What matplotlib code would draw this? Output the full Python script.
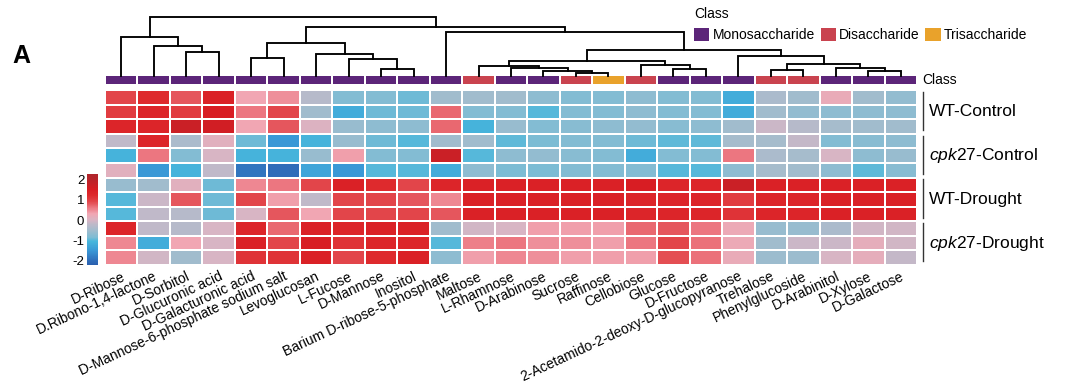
import numpy as np
import matplotlib
matplotlib.use('Agg')
import matplotlib.pyplot as plt
from matplotlib.colors import LinearSegmentedColormap, ListedColormap, Normalize
from matplotlib.patches import Patch

plt.rcParams['font.family'] = ['Liberation Sans', 'DejaVu Sans']
plt.rcParams['axes.unicode_minus'] = False
plt.rcParams['mathtext.fontset'] = 'custom'
plt.rcParams['mathtext.it'] = 'Liberation Sans:italic'
plt.rcParams['mathtext.rm'] = 'Liberation Sans'

compounds = ['D-Ribose', 'D.Ribono-1,4-lactone', 'D-Sorbitol', 'D-Glucuronic acid',
             'D-Galacturonic acid', 'D-Mannose-6-phosphate sodium salt', 'Levoglucosan',
             'L-Fucose', 'D-Mannose', 'Inositol', 'Barium D-ribose-5-phosphate', 'Maltose',
             'L-Rhamnose', 'D-Arabinose', 'Sucrose', 'Raffinose', 'Cellobiose', 'Glucose',
             'D-Fructose', '2-Acetamido-2-deoxy-D-glucopyranose', 'Trehalose',
             'Phenylglucoside', 'D-Arabinitol', 'D-Xylose', 'D-Galactose']

# 0 = Monosaccharide, 1 = Disaccharide, 2 = Trisaccharide
compound_class = [0, 0, 0, 0, 0, 0, 0, 0, 0, 0, 0, 1, 0, 0, 1, 2, 1, 0, 0, 0, 1, 1, 0, 0, 0]
class_names = ['Monosaccharide', 'Disaccharide', 'Trisaccharide']
class_colors = ['#5c2579', '#c9434f', '#e9a22b']

groups = ['WT-Control', '$\\mathit{cpk27}$-Control', 'WT-Drought', '$\\mathit{cpk27}$-Drought']

# z-scores per compound, 12 samples (3 per group, groups in order above)
values_by_compound = [
    [0.9, 1.0, 1.3, -0.2, -1.1, 0.1, -0.6, -1.0, -1.0, 1.3, 0.5, 0.5],
    [1.2, 1.3, 1.3, 1.3, 0.6, -1.5, -0.5, -0.1, -0.2, -0.2, -1.2, -0.05],
    [0.8, 1.0, 1.7, -0.4, -0.8, -1.1, 0.1, 0.8, -0.3, -0.3, 0.3, -0.5],
    [1.4, 1.5, 1.6, 0.1, 0.0, -0.2, -0.9, -0.9, -0.9, 0.0, 0.0, 0.0],
    [0.3, 0.6, 0.3, -0.9, -1.1, -1.9, 0.5, 0.9, 0.0, 1.3, 1.4, 1.1],
    [0.45, 0.9, 0.8, -1.5, -1.1, -2.0, 0.6, 0.35, 0.8, 0.7, 0.9, 1.1],
    [-0.3, -0.5, 0.05, -1.1, -0.6, -1.3, 0.9, -0.2, 0.3, 1.4, 1.5, 1.4],
    [-0.8, -1.2, -0.6, -0.6, 0.35, -1.5, 1.4, 0.9, 0.9, 1.3, 1.1, 0.9],
    [-0.8, -0.9, -0.7, -0.9, -0.8, -1.0, 1.2, 0.9, 0.9, 1.4, 1.3, 1.2],
    [-0.9, -0.9, -0.7, -1.0, -0.8, -1.0, 0.9, 0.8, 0.9, 1.4, 1.3, 1.4],
    [-0.5, 0.7, 0.7, -0.5, 1.7, -1.2, 1.3, 0.5, 0.8, -0.5, -1.0, -0.7],
    [-0.5, -0.8, -1.1, -0.5, -1.0, -0.7, 1.4, 1.4, 1.4, -0.05, 0.55, 0.35],
    [-0.5, -0.8, -0.6, -0.95, -0.7, -0.85, 1.4, 1.4, 1.4, 0.0, 0.6, 0.5],
    [-0.7, -1.0, -0.8, -0.85, -0.65, -0.85, 1.4, 1.4, 1.4, 0.35, 0.45, 0.45],
    [-0.8, -0.8, -0.75, -0.8, -0.75, -0.8, 1.4, 1.4, 1.4, 0.35, 0.45, 0.35],
    [-0.8, -0.8, -0.7, -0.8, -0.8, -0.8, 1.4, 1.4, 1.4, 0.35, 0.35, 0.35],
    [-0.7, -0.7, -0.65, -0.9, -1.2, -0.8, 1.5, 1.3, 1.3, 0.7, 0.6, 0.35],
    [-0.8, -0.8, -0.75, -0.95, -0.8, -1.0, 1.3, 1.3, 1.3, 0.8, 0.9, 0.85],
    [-0.8, -0.8, -0.7, -0.95, -0.8, -1.0, 1.3, 1.3, 1.3, 0.6, 0.65, 0.65],
    [-1.2, -1.2, -0.5, -0.45, 0.6, -0.7, 1.7, 1.0, 1.1, 0.25, 0.25, 0.2],
    [-0.4, -0.5, -0.1, -0.45, -0.4, -0.45, 1.4, 1.3, 1.3, -0.6, -0.5, -0.55],
    [-0.5, -0.65, -0.3, -0.15, -0.45, -0.5, 1.4, 1.3, 1.3, -0.6, -0.1, -0.55],
    [0.2, -0.7, -0.45, -0.8, 0.0, -0.7, 1.4, 1.4, 1.4, -0.4, -0.1, 0.0],
    [-0.5, -0.7, -0.5, -0.75, -0.7, -0.95, 1.4, 1.4, 1.4, -0.05, 0.15, 0.15],
    [-0.65, -0.7, -0.5, -0.7, -0.6, -0.75, 1.4, 1.4, 1.4, -0.05, -0.05, -0.15],
]

# column dendrogram merges: (left, right, height); new nodes numbered from 25 on
merges = [
    (2, 3, 24.3), (1, 25, 30.3), (0, 26, 38.7),
    (4, 5, 17.7), (8, 9, 6.7), (7, 29, 16.7), (6, 30, 22.0), (28, 31, 32.7),
    (14, 15, 2.7), (13, 33, 5.0), (12, 34, 7.7), (11, 35, 10.0),
    (17, 18, 6.7), (16, 37, 11.0), (36, 38, 15.0),
    (20, 21, 6.0), (23, 24, 5.3), (22, 41, 8.0), (40, 42, 12.0), (19, 43, 20.0),
    (39, 44, 26.0), (10, 45, 43.7), (32, 46, 49.3), (27, 47, 59.3),
]

data = np.array(values_by_compound).T
n_rows, n_cols = data.shape

W, H = 1079, 386


def box(x0, y0, x1, y1):
    return [x0 / W, 1 - y1 / H, (x1 - x0) / W, (y1 - y0) / H]


cmap_nodes = [(-2.2, '#2a5fae'), (-2.0, '#2f6db9'), (-1.5, '#3a98d6'), (-1.05, '#47b6dc'),
              (-0.85, '#7ebcd4'), (-0.5, '#a2bccd'), (-0.2, '#bfb9c9'), (0.0, '#d8b5c4'),
              (0.3, '#f1a6b3'), (0.6, '#ec7882'), (0.9, '#e2464b'), (1.2, '#de2a2d'),
              (1.5, '#d81d23'), (2.0, '#b7242a'), (2.25, '#b0262b')]
vmin, vmax = -2.2, 2.25
cmap = LinearSegmentedColormap.from_list(
    'zs', [((v - vmin) / (vmax - vmin), c) for v, c in cmap_nodes])
norm = Normalize(vmin=vmin, vmax=vmax)

fig = plt.figure(figsize=(W / 100, H / 100), dpi=100)

# heatmap
ax = fig.add_axes(box(105, 90, 917, 265))
mesh = ax.pcolormesh(data, cmap=cmap, norm=norm, edgecolors='white', linewidth=1.3)
ax.set_xlim(0, n_cols)
ax.set_ylim(n_rows, 0)
for s in ax.spines.values():
    s.set_visible(False)
ax.set_yticks([])
ax.set_xticks(np.arange(n_cols) + 0.5)
ax.set_xticklabels(compounds, rotation=25, ha='right', rotation_mode='anchor', fontsize=10)
ax.tick_params(axis='x', length=0, pad=3)

for g, name in enumerate(groups):
    r0 = g * 3
    ax.plot([25.18, 25.18], [r0 + 0.12, r0 + 2.75], color='#333333', lw=1.0, clip_on=False)
    ax.text(25.37, r0 + 1.5, name, fontsize=12.5, va='center', ha='left')

# class annotation bar
ax_cls = fig.add_axes(box(105, 75, 917, 85))
ax_cls.pcolormesh(np.array([compound_class]), cmap=ListedColormap(class_colors),
                  vmin=-0.5, vmax=2.5, edgecolors='white', linewidth=1.3)
ax_cls.set_xlim(0, n_cols)
ax_cls.axis('off')
ax_cls.text(25.15, 0.5, 'Class', fontsize=10, va='center', ha='left')

# dendrogram
ax_den = fig.add_axes(box(105, 16, 917, 76))
pos = {i: (i + 0.5, 0.0) for i in range(n_cols)}
for k, (a, b, h) in enumerate(merges):
    xa, ha = pos[a]
    xb, hb = pos[b]
    ax_den.plot([xa, xa, xb, xb], [ha, h, h, hb], color='black', lw=1.35,
                solid_joinstyle='miter', clip_on=False)
    pos[n_cols + k] = ((xa + xb) / 2, h)
ax_den.set_xlim(0, n_cols)
ax_den.set_ylim(0, 60)
ax_den.axis('off')

# colorbar
cax = fig.add_axes(box(87, 174, 98, 265))
cb = fig.colorbar(mesh, cax=cax, ticks=[-2, -1, 0, 1, 2])
cb.outline.set_visible(False)
cax.yaxis.set_ticks_position('left')
cax.tick_params(length=0, labelsize=9.5, pad=2)

# legend
handles = [Patch(facecolor=c, edgecolor='none') for c in class_colors]
leg = fig.legend(handles, class_names, ncol=3, title='Class', loc='upper left',
                 bbox_to_anchor=(694 / W, 1 - 7 / H), frameon=False, fontsize=10,
                 title_fontsize=10, handlelength=1.1, handleheight=1.1,
                 handletextpad=0.25, columnspacing=0.4, borderpad=0, borderaxespad=0)
leg._legend_box.align = 'left'

fig.text(12 / W, 1 - 56 / H, 'A', fontsize=18, fontweight='bold', va='center', ha='left')

fig.savefig('out.png', dpi=100)
